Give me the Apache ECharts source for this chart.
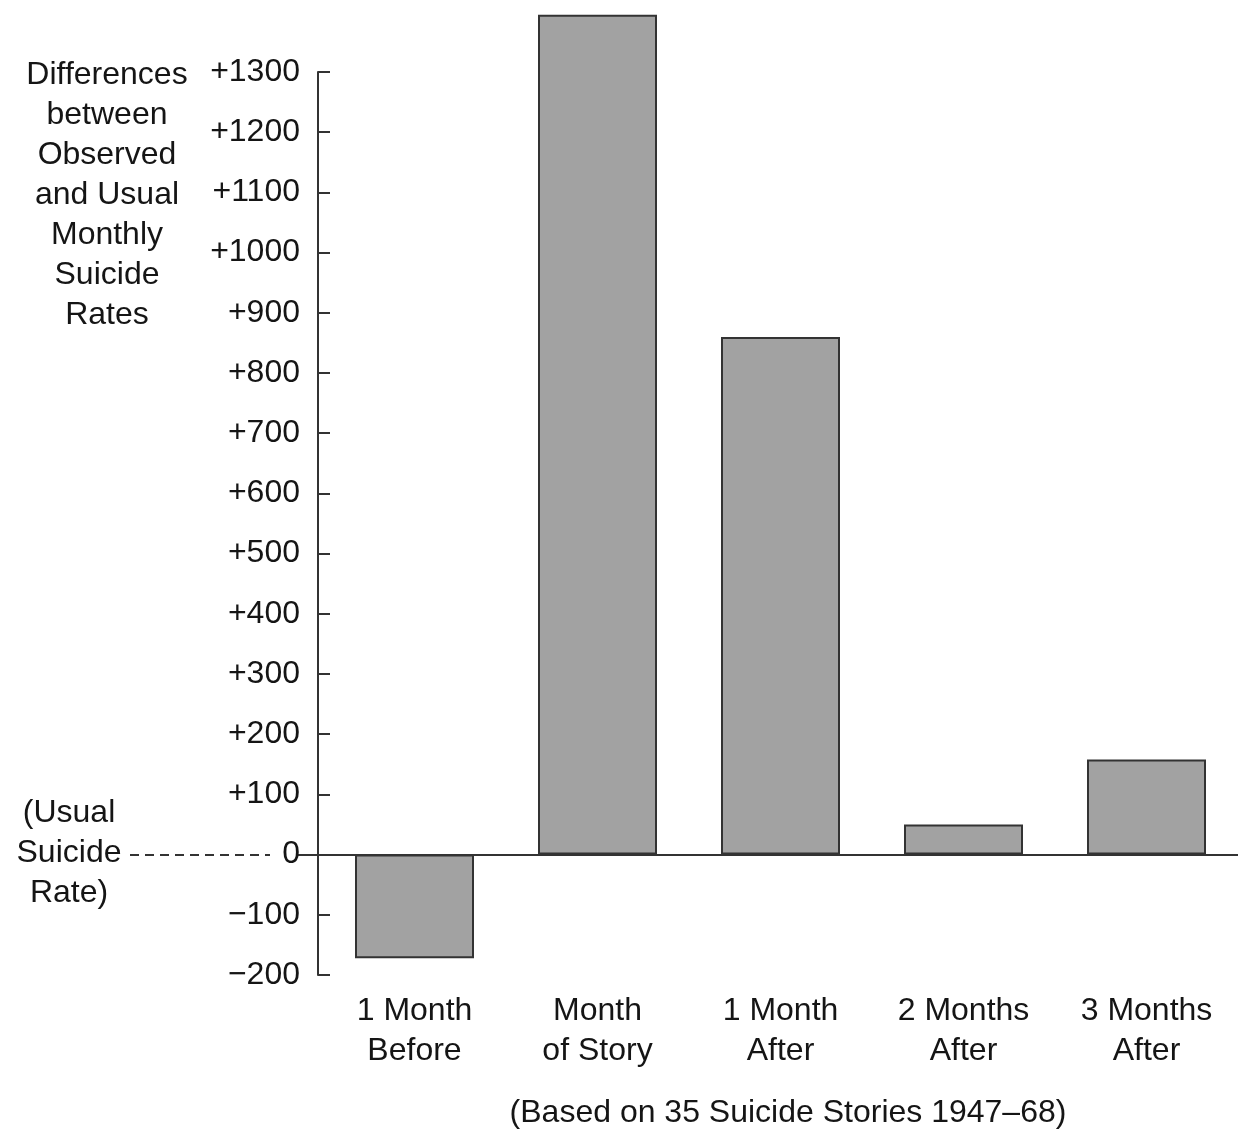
<!DOCTYPE html>
<html>
<head>
<meta charset="utf-8">
<script src="https://cdn.jsdelivr.net/npm/echarts@6/dist/echarts.min.js"></script>
<style>html,body{margin:0;padding:0;background:#fff}#c{width:1238px;height:1133px}</style>
</head>
<body>
<div id="c"></div>
<script>
const categories = ['1 Month\nBefore', 'Month\nof Story', '1 Month\nAfter', '2 Months\nAfter', '3 Months\nAfter'];
const values = [-172, 1395, 860, 50, 158];
const yMin = -200, yMax = 1300, yStep = 100;
const yTitle = 'Differences\nbetween\nObserved\nand Usual\nMonthly\nSuicide\nRates';
const zeroNote = '(Usual\nSuicide\nRate)';
const caption = '(Based on 35 Suicide Stories 1947\u201368)';

const FONT = '"Liberation Sans", Arial, Helvetica, sans-serif';
const FS = 32;
const ink = '#151515';
const chart = echarts.init(document.getElementById('c'), null, {renderer: 'canvas'});
chart.setOption({
  backgroundColor: '#fff',
  animation: false,
  textStyle: {fontFamily: FONT, color: ink},
  grid: {left: 323, right: 0, top: 72, bottom: 158, containLabel: false},
  title: [
    {text: yTitle, left: 102, top: 50, textAlign: 'center',
     textStyle: {fontFamily: FONT, fontSize: FS, fontWeight: 'normal', color: ink, lineHeight: 40, align: 'center'}},
    {text: zeroNote, left: 64, top: 788, textAlign: 'center',
     textStyle: {fontFamily: FONT, fontSize: FS, fontWeight: 'normal', color: ink, lineHeight: 40, align: 'center'}},
    {text: caption, left: 783, top: 1092, textAlign: 'center',
     textStyle: {fontFamily: FONT, fontSize: FS, fontWeight: 'normal', color: ink}}
  ],
  xAxis: {
    type: 'category',
    data: categories,
    position: 'bottom',
    axisLine: {show: false, onZero: false},
    axisTick: {show: false},
    axisLabel: {fontFamily: FONT, fontSize: FS, color: ink, lineHeight: 40, margin: 16, interval: 0}
  },
  yAxis: {
    type: 'value',
    min: yMin, max: yMax, interval: yStep,
    offset: 5,
    axisLine: {show: true, lineStyle: {color: '#333', width: 2}},
    axisTick: {show: true, inside: true, length: 12, lineStyle: {color: '#333', width: 2}},
    splitLine: {show: false},
    axisLabel: {
      fontFamily: FONT, fontSize: FS, color: ink, margin: 18,
      formatter: v => v > 0 ? '+' + v : (v < 0 ? '\u2212' + Math.abs(v) : '0')
    }
  },
  graphic: [
    {type: 'line', shape: {x1: 130, y1: 855, x2: 270, y2: 855},
     style: {stroke: '#333', lineWidth: 2, lineDash: [9, 6]}},
    {type: 'line', shape: {x1: 297, y1: 855, x2: 324, y2: 855},
     style: {stroke: '#333', lineWidth: 2}}
  ],
  series: [{
    type: 'bar',
    data: values,
    barWidth: 119,
    clip: false,
    itemStyle: {color: '#a2a2a2', borderColor: '#333', borderWidth: 2},
    markLine: {
      silent: true, symbol: 'none', label: {show: false},
      lineStyle: {color: '#333', width: 2, type: 'solid'},
      data: [{yAxis: 0}]
    }
  }]
});
</script>
</body>
</html>
